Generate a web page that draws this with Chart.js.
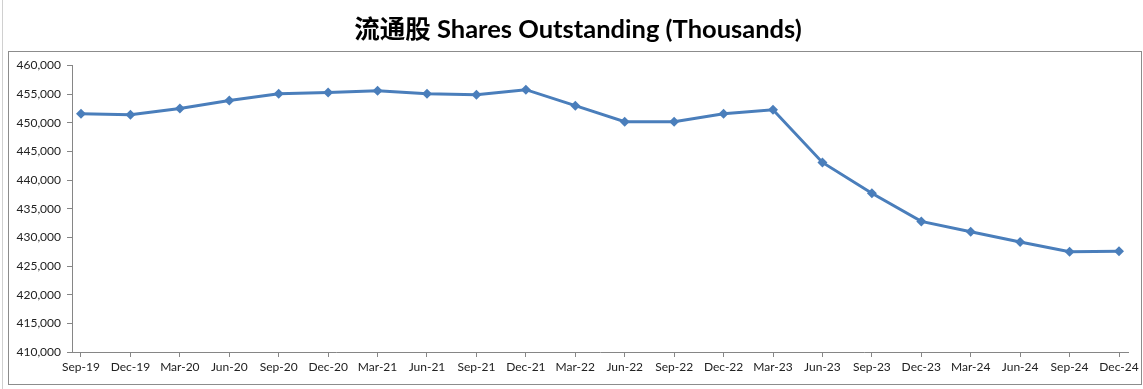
<!DOCTYPE html>
<html>
<head>
<meta charset="utf-8">
<script src="https://cdn.jsdelivr.net/npm/chart.js@4"></script>
<style>
    html, body { margin: 0; padding: 0; background: #fff; }
    #wrap { width: 1143px; height: 389px; position: relative; }
</style>
</head>
<body>
<div id="wrap"><canvas id="myChart"></canvas></div>
<script>
// quarter labels
const quarters = ['Sep-19', 'Dec-19', 'Mar-20', 'Jun-20', 'Sep-20', 'Dec-20', 'Mar-21', 'Jun-21',
    'Sep-21', 'Dec-21', 'Mar-22', 'Jun-22', 'Sep-22', 'Dec-22', 'Mar-23', 'Jun-23',
    'Sep-23', 'Dec-23', 'Mar-24', 'Jun-24', 'Sep-24', 'Dec-24'];

// shares outstanding, thousands
const shares = [451600, 451400, 452500, 453900, 455100, 455300, 455600, 455100,
    454900, 455800, 453000, 450200, 450200, 451600, 452300, 443100,
    437700, 432800, 431000, 429200, 427500, 427600];

const yMin = 410000;
const yMax = 460000;
const yStep = 5000;

const titleText = '流通股 Shares Outstanding (Thousands)';

const axisGray = '#868686';
const lineBlue = '#4a7ebb';

// outer frame around the plot, like the spreadsheet chart box
const framePlugin = {
    id: 'frame',
    afterLayout(chart) {
        // centre the title over the frame rather than the padded layout
        const t = chart.titleBlock;
        if (t) {
            t.left = 13;
            t.right = 1143;
        }
    },
    beforeDraw(chart) {
        const ctx = chart.ctx;
        ctx.save();
        ctx.strokeStyle = '#d0d0d0';
        ctx.lineWidth = 1;
        ctx.beginPath();
        ctx.moveTo(2.5, 0);
        ctx.lineTo(2.5, chart.height);
        ctx.stroke();
        ctx.strokeStyle = '#8c8c8c';
        ctx.strokeRect(8.5, 51.5, 1133, 333);
        ctx.restore();
    }
};

const ctx = document.getElementById('myChart').getContext('2d');
new Chart(ctx, {
    type: 'line',
    data: {
        datasets: [{
            label: 'Shares Outstanding',
            data: shares.map((v, i) => ({ x: i, y: v })),
            borderColor: lineBlue,
            backgroundColor: lineBlue,
            borderWidth: 3,
            pointStyle: 'rectRot',
            pointRadius: 5,
            pointBorderWidth: 0,
            tension: 0
        }]
    },
    options: {
        responsive: true,
        maintainAspectRatio: false,
        animation: false,
        layout: { padding: { left: 0, right: 15, top: 0, bottom: 0 } },
        plugins: {
            legend: { display: false },
            tooltip: { enabled: false },
            title: {
                display: true,
                text: titleText,
                color: '#000',
                font: { family: "Lato, 'Noto Sans CJK SC'", size: 25.5, weight: 'bold' },
                padding: { top: 14, bottom: 21 }
            }
        },
        scales: {
            x: {
                type: 'linear',
                min: -0.182,
                max: 21.182,
                afterBuildTicks: (scale) => {
                    scale.ticks = quarters.map((q, i) => ({ value: i }));
                },
                afterFit: (scale) => { scale.height = 37; },
                ticks: {
                    callback: (v) => quarters[v],
                    autoSkip: false,
                    maxRotation: 0,
                    color: '#222',
                    font: { family: 'Lato', size: 12 },
                    padding: 3
                },
                grid: { drawOnChartArea: false, drawTicks: true, tickLength: 5, color: axisGray },
                border: { display: true, color: axisGray, width: 1 }
            },
            y: {
                min: yMin,
                max: yMax,
                afterFit: (scale) => { scale.width = 72; },
                ticks: {
                    stepSize: yStep,
                    color: '#222',
                    font: { family: 'Lato', size: 12 },
                    padding: 6,
                    callback: (v) => v.toLocaleString('en-US')
                },
                grid: { drawOnChartArea: false, drawTicks: true, tickLength: 5, color: axisGray },
                border: { display: true, color: axisGray, width: 1 }
            }
        }
    },
    plugins: [framePlugin]
});
</script>
</body>
</html>
